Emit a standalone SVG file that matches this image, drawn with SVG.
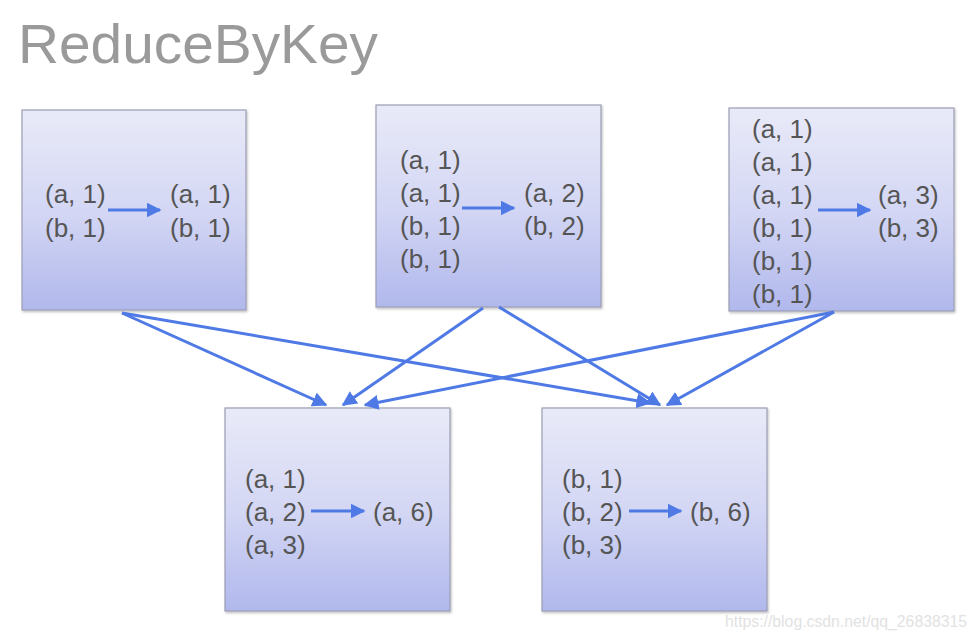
<svg xmlns="http://www.w3.org/2000/svg" width="977" height="638" viewBox="0 0 977 638">
<defs>
<linearGradient id="g" x1="0" y1="0" x2="0" y2="1">
<stop offset="0" stop-color="#e9eaf8"/>
<stop offset="0.5" stop-color="#d4d7f4"/>
<stop offset="1" stop-color="#b1b8ec"/>
</linearGradient>
<marker id="ah" viewBox="0 0 10 10" refX="9" refY="5" markerWidth="5" markerHeight="5" markerUnits="strokeWidth" orient="auto">
<path d="M0,0 L10,5 L0,10 z" fill="#4f7ae6"/>
</marker>
<filter id="sh" x="-5%" y="-5%" width="110%" height="110%">
<feDropShadow dx="1" dy="1.5" stdDeviation="1.2" flood-color="#000" flood-opacity="0.25"/>
</filter>
</defs>
<style>
.box{fill:url(#g);stroke:#9b9db4;stroke-width:1.2;filter:url(#sh)}
.t{font-family:"Liberation Sans",Arial,sans-serif;font-size:26px;fill:#555}
.c{stroke:#4f7ae6;stroke-width:3;fill:none;marker-end:url(#ah)}
</style>
<rect width="977" height="638" fill="#fff"/>
<text x="18" y="63" font-family="Liberation Sans,Arial,sans-serif" font-size="56" fill="#9a9a9a" textLength="360" lengthAdjust="spacingAndGlyphs">ReduceByKey</text>

<g id="node1">
<rect class="box" x="22" y="110" width="224" height="200"/>
<text class="t" x="45" y="203">(a, 1)</text>
<text class="t" x="45" y="237">(b, 1)</text>
<text class="t" x="170" y="203">(a, 1)</text>
<text class="t" x="170" y="237">(b, 1)</text>
</g>
<g id="node2">
<rect class="box" x="376" y="105" width="225" height="202"/>
<text class="t" x="400" y="169">(a, 1)</text>
<text class="t" x="400" y="202">(a, 1)</text>
<text class="t" x="400" y="235">(b, 1)</text>
<text class="t" x="400" y="268">(b, 1)</text>
<text class="t" x="524" y="202">(a, 2)</text>
<text class="t" x="524" y="235">(b, 2)</text>
</g>
<g id="node3">
<rect class="box" x="729" y="108" width="225" height="203"/>
<text class="t" x="752" y="138">(a, 1)</text>
<text class="t" x="752" y="171">(a, 1)</text>
<text class="t" x="752" y="204">(a, 1)</text>
<text class="t" x="752" y="237">(b, 1)</text>
<text class="t" x="752" y="270">(b, 1)</text>
<text class="t" x="752" y="303">(b, 1)</text>
<text class="t" x="878" y="204">(a, 3)</text>
<text class="t" x="878" y="237">(b, 3)</text>
</g>
<g id="node4">
<rect class="box" x="225" y="408" width="225" height="203"/>
<text class="t" x="245" y="488">(a, 1)</text>
<text class="t" x="245" y="521">(a, 2)</text>
<text class="t" x="245" y="554">(a, 3)</text>
<text class="t" x="373" y="521">(a, 6)</text>
</g>
<g id="node5">
<rect class="box" x="542" y="408" width="225" height="203"/>
<text class="t" x="562" y="488">(b, 1)</text>
<text class="t" x="562" y="521">(b, 2)</text>
<text class="t" x="562" y="554">(b, 3)</text>
<text class="t" x="690" y="521">(b, 6)</text>
</g>

<g id="connectors">
<line class="c" x1="108" y1="210" x2="160" y2="210"/>
<line class="c" x1="462" y1="208" x2="514" y2="208"/>
<line class="c" x1="818" y1="210" x2="870" y2="210"/>
<line class="c" x1="311" y1="511" x2="364" y2="511"/>
<line class="c" x1="629" y1="511" x2="681" y2="511"/>
<line class="c" x1="122" y1="313" x2="326" y2="405"/>
<line class="c" x1="122" y1="313" x2="650" y2="403"/>
<line class="c" x1="483" y1="308" x2="343" y2="405"/>
<line class="c" x1="499" y1="307" x2="660" y2="405"/>
<line class="c" x1="834" y1="312" x2="365" y2="405"/>
<line class="c" x1="834" y1="312" x2="667" y2="405"/>
</g>
<text x="725" y="627" font-family="Liberation Sans,Arial,sans-serif" font-size="16" fill="#e2e2e2" textLength="242" lengthAdjust="spacingAndGlyphs">https://blog.csdn.net/qq_26838315</text>
</svg>
